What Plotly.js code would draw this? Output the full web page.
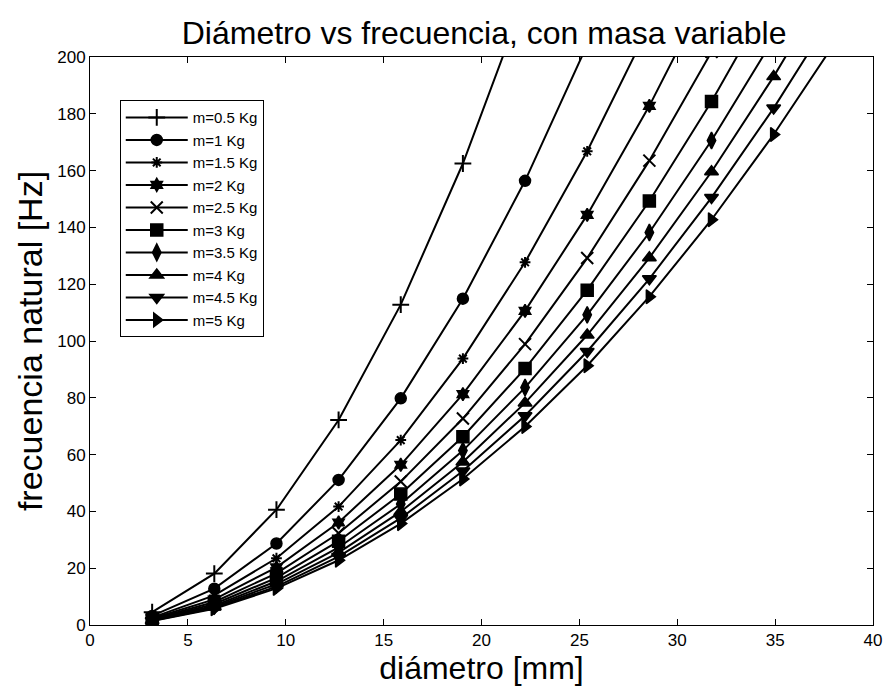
<!DOCTYPE html>
<html>
<head>
<meta charset="utf-8">
<script src="https://cdn.plot.ly/plotly-3.0.1.min.js"></script>
<style>html,body{margin:0;padding:0;background:#fff;}#chart{width:885px;height:690px;}</style>
</head>
<body>
<div id="chart"></div>
<script>
// diámetro [mm]
const diametro = [3.175, 6.35, 9.525, 12.7, 15.875, 19.05, 22.225, 25.4, 28.575, 31.75, 34.925, 38.1];
const etiquetas = ["m=0.5 Kg","m=1 Kg","m=1.5 Kg","m=2 Kg","m=2.5 Kg","m=3 Kg","m=3.5 Kg","m=4 Kg","m=4.5 Kg","m=5 Kg"];
// frecuencia natural [Hz]
const f_m05 = [4.5, 18.1, 40.6, 72.2, 112.8, 162.5, 221.1];
const f_m1  = [3.2, 12.8, 28.7, 51.1, 79.8, 114.9, 156.4, 204.3];
const f_m15 = [2.6, 10.4, 23.5, 41.7, 65.1, 93.8, 127.7, 166.8, 211.1];
const f_m2  = [2.3, 9.0, 20.3, 36.1, 56.4, 81.3, 110.6, 144.4, 182.8, 225.7];
const f_m25 = [2.0, 8.1, 18.2, 32.3, 50.5, 72.7, 98.9, 129.2, 163.5, 201.8];
const f_m3  = [1.8, 7.4, 16.6, 29.5, 46.1, 66.3, 90.3, 117.9, 149.3, 184.3, 223.0];
const f_m35 = [1.7, 6.8, 15.4, 27.3, 42.6, 61.4, 83.6, 109.2, 138.2, 170.6, 206.4];
const f_m4  = [1.6, 6.4, 14.4, 25.5, 39.9, 57.4, 78.2, 102.1, 129.3, 159.6, 193.1, 229.8];
const f_m45 = [1.5, 6.0, 13.5, 24.1, 37.6, 54.2, 73.7, 96.3, 121.9, 150.5, 182.0, 216.7];
const f_m5  = [1.4, 5.7, 12.9, 22.8, 35.7, 51.4, 69.9, 91.3, 115.6, 142.7, 172.7, 205.5];

const series = [f_m05, f_m1, f_m15, f_m2, f_m25, f_m3, f_m35, f_m4, f_m45, f_m5];
const simbolos = ["cross-thin-open","circle","asterisk-open","hexagram","x-thin-open","square","diamond-tall","triangle-up","triangle-down","triangle-right"];
const tamanos = [12, 11, 9, 10, 12, 12, 12, 12, 12, 12];

const traces = series.map((ys, i) => ({
  x: diametro.slice(0, ys.length),
  y: ys,
  name: etiquetas[i],
  type: 'scatter',
  mode: 'lines+markers',
  line: {color: '#000', width: 2},
  marker: {symbol: simbolos[i], size: tamanos[i], color: '#000', line: {color: '#000', width: (simbolos[i].indexOf('open') >= 0) ? 2 : 1.5}},
  cliponaxis: true
}));

const font = "Liberation Sans, Arial, sans-serif";
const layout = {
  width: 885, height: 690,
  margin: {l: 90, r: 12, t: 57, b: 65},
  paper_bgcolor: '#fff', plot_bgcolor: '#fff',
  font: {family: font, color: '#000', size: 16},
  title: {text: 'Diámetro vs frecuencia, con masa variable', font: {family: font, size: 32, color: '#000'}, x: 0.547, xanchor: 'center', y: 0.952, yanchor: 'middle'},
  xaxis: {
    range: [0, 40], dtick: 5, tick0: 0,
    showgrid: false, zeroline: false,
    showline: true, linecolor: '#000', linewidth: 1, mirror: 'ticks',
    ticks: 'inside', ticklen: 6, tickcolor: '#000',
    tickfont: {size: 17},
    title: {text: 'diámetro [mm]', font: {size: 32}, standoff: 2}
  },
  yaxis: {
    range: [0, 200], dtick: 20, tick0: 0,
    showgrid: false, zeroline: false,
    showline: true, linecolor: '#000', linewidth: 1, mirror: 'ticks',
    ticks: 'inside', ticklen: 6, tickcolor: '#000',
    tickfont: {size: 17},
    title: {text: 'frecuencia natural [Hz]', font: {size: 34}, standoff: 4}
  },
  showlegend: true,
  legend: {
    x: 0.038, y: 0.924, xanchor: 'left', yanchor: 'top',
    bgcolor: '#fff', bordercolor: '#000', borderwidth: 1,
    font: {size: 15}, tracegroupgap: 0, itemwidth: 62
  }
};
Plotly.newPlot('chart', traces, layout, {displayModeBar: false, staticPlot: true});
</script>
</body>
</html>
